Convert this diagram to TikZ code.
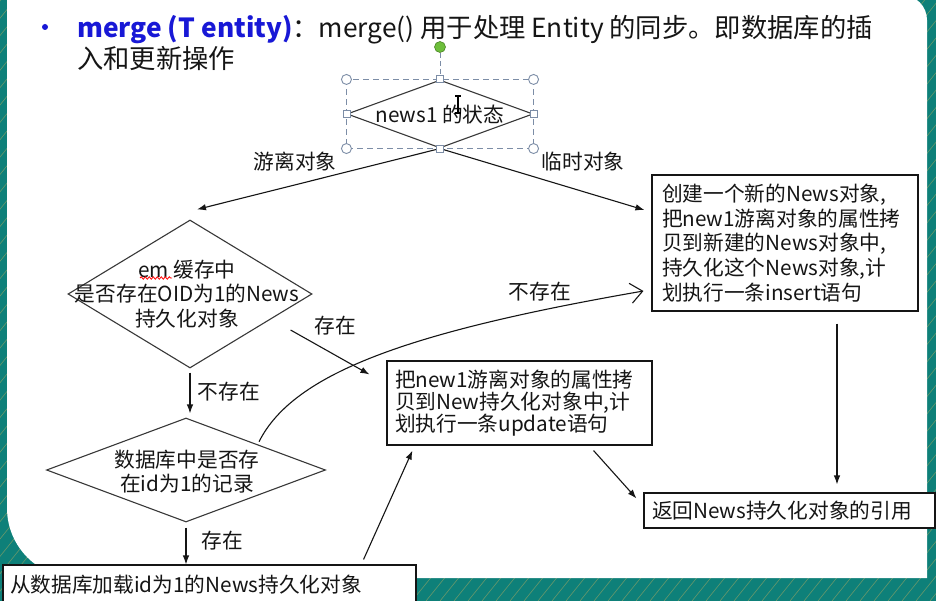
\documentclass[tikz,border=0pt]{standalone}
\usepackage{fontspec}
\setmainfont{Noto Sans CJK SC}
\usetikzlibrary{arrows.meta,shapes.geometric,calc,decorations.pathmorphing}
\definecolor{frame}{HTML}{0E8079}
\definecolor{gold}{HTML}{D9B45A}
\definecolor{titleblue}{HTML}{1818D6}
\definecolor{ink}{HTML}{151515}
\definecolor{handle}{HTML}{7C8DA6}
\definecolor{rotgreen}{HTML}{6DBE3A}
\begin{document}
\begin{tikzpicture}[x=1pt,y=-1pt,
  every node/.style={text=ink},
  txt/.style={font=\fontsize{20.7}{24.7}\selectfont},
  lbl/.style={font=\fontsize{20.7}{24}\selectfont},
  box/.style={draw=ink, line width=1.1pt, fill=white, inner sep=0pt},
  decision/.style={diamond, draw=ink!85, line width=1.1pt, inner sep=0pt},
  arr/.style={draw=ink, line width=1.1pt, -{Latex[length=9pt,width=6.5pt]}},
  openarr/.style={draw=ink, line width=1.1pt, -{Straight Barb[length=12pt,width=20pt,line width=1.1pt]}},
  corner/.style={circle, draw=handle, fill=white, line width=0.9pt, minimum size=10pt, inner sep=0pt},
  sqhandle/.style={rectangle, draw=handle, fill=white, line width=0.9pt, minimum size=7pt, inner sep=0pt},
]
\useasboundingbox (0,0) rectangle (936,601);

% slide frame: teal border with gold hatching, white page on top
\fill[frame] (0,0) rectangle (936,601);
\begin{scope}
  \clip (0,0) rectangle (936,601);
  \foreach \k in {0,...,105}
    \draw[gold, line width=0.6pt, opacity=0.45] ({\k*14-540},601) -- ++(500,-620);
\end{scope}
\fill[white] (7,-5) -- (902,-5) .. controls (915.8,-5) and (927,6.2) .. (927,20)
  -- (927,578) -- (77,578) .. controls (38.3,578) and (7,546.7) .. (7,508) -- cycle;

% heading
\node[circle, fill=titleblue, inner sep=0pt, minimum size=6pt] (bullet) at (45,27) {};
\node[anchor=north west, align=left, inner sep=0pt,
      font=\fontsize{26.3}{31}\selectfont] (title) at (77,15)
  {{\bfseries\color{titleblue}merge (T entity)}：merge() 用于处理 Entity 的同步。即数据库的插\\入和更新操作};

% decisions
\node[decision, minimum width=186pt, minimum height=68pt] (d1) at (440,114) {};
\node[txt, inner sep=0pt] (d1t) at (440,115) {news1 的状态};

\node[decision, minimum width=244pt, minimum height=148pt] (d2) at (190,294) {};
\node[txt, align=center, inner sep=0pt] (d2t) at (187,294) {em 缓存中\\是否存在OID为1的News\\持久化对象};
\draw[red, line width=0.8pt, decorate, decoration={snake, amplitude=1.2pt, segment length=4pt}]
  (140,278) -- (172,278);

\node[decision, minimum width=279pt, minimum height=104pt] (d3) at (186,470) {};
\node[txt, align=center, inner sep=0pt] (d3t) at (187,471.5) {数据库中是否存\\在id为1的记录};

% action boxes
\node[box, txt, minimum width=266pt, minimum height=136pt, text width=246pt, align=left] (boxA) at (785,243)
  {创建一个新的News对象,\\把new1游离对象的属性拷\\贝到新建的News对象中,\\持久化这个News对象,计\\划执行一条insert语句};
\node[box, minimum width=265pt, minimum height=84pt, text width=249pt, align=left,
      font=\fontsize{20.7}{22.3}\selectfont] (boxB) at (519.5,403)
  {把new1游离对象的属性拷\\贝到New持久化对象中,计\\划执行一条update语句};
\node[box, txt, minimum width=291pt, minimum height=35pt, text width=275pt, align=left] (boxC) at (789.5,510.5)
  {返回News持久化对象的引用};
\node[box, txt, minimum width=413pt, minimum height=40pt, text width=399pt, align=left] (boxD) at (209.5,585)
  {从数据库加载id为1的News持久化对象};

% connectors
\draw[arr] (d1.south) -- ([shift={(7,-10)}]d2.north);
\draw[arr] (d1.south) -- ([shift={(-7,-33)}]boxA.west);
\node[lbl] (lbl1) at (295,162) {游离对象};
\node[lbl] (lbl2) at (583,162) {临时对象};

\draw[arr] ([shift={(-22,36)}]d2.east) -- ([shift={(-17,14)}]boxB.north west);
\node[lbl] (lbl3) at (335,326) {存在};

\draw[arr] ([yshift=-4pt]d2.south) -- ([yshift=4pt]d2.south |- d3.north);
\node[lbl] (lbl4) at (229,392) {不存在};

\draw[openarr] ([shift={(3,-2)}]d3.north east) .. controls +(35,-70) and +(-230,40) .. ([shift={(-8,48)}]boxA.west);
\node[lbl] (lbl5) at (540,292) {不存在};

\draw[arr] ([yshift=-5pt]d3.south) -- (d3.south |- boxD.north);
\node[lbl] (lbl6) at (222,541) {存在};

\draw[arr] ([shift={(-53,-5)}]boxD.north east) -- ([shift={(26,5)}]boxB.south west);
\draw[arr] ([shift={(-59,5)}]boxB.south east) -- ([shift={(-7,6)}]boxC.north west);
\draw[arr] ([shift={(52,12)}]boxA.south) -- ($(boxA.south |- boxC.north)+(52,-8)$);

% selection frame around the first decision
\node[circle, draw=rotgreen!70!black, fill=rotgreen, line width=0.6pt, minimum size=11pt, inner sep=0pt] (rot) at (440,47) {};
\draw[handle, line width=1pt, dash pattern=on 5pt off 3pt] (rot) -- (d1.north);
\draw[handle, line width=1pt, dash pattern=on 6pt off 4pt] (d1.west |- d1.north) rectangle (d1.east |- d1.south);
\node[corner] (c1) at (d1.west |- d1.north) {};
\node[corner] (c2) at (d1.east |- d1.north) {};
\node[corner] (c3) at (d1.west |- d1.south) {};
\node[corner] (c4) at (d1.east |- d1.south) {};
\node[sqhandle] (s1) at (d1.north) {};
\node[sqhandle] (s2) at (d1.south) {};
\node[sqhandle] (s3) at (d1.west) {};
\node[sqhandle] (s4) at (d1.east) {};

% text cursor
\draw[black, line width=1.1pt] (455,96) -- (461,96) (458,96) -- (458,113) (455,113) -- (461,113);

\end{tikzpicture}
\end{document}
